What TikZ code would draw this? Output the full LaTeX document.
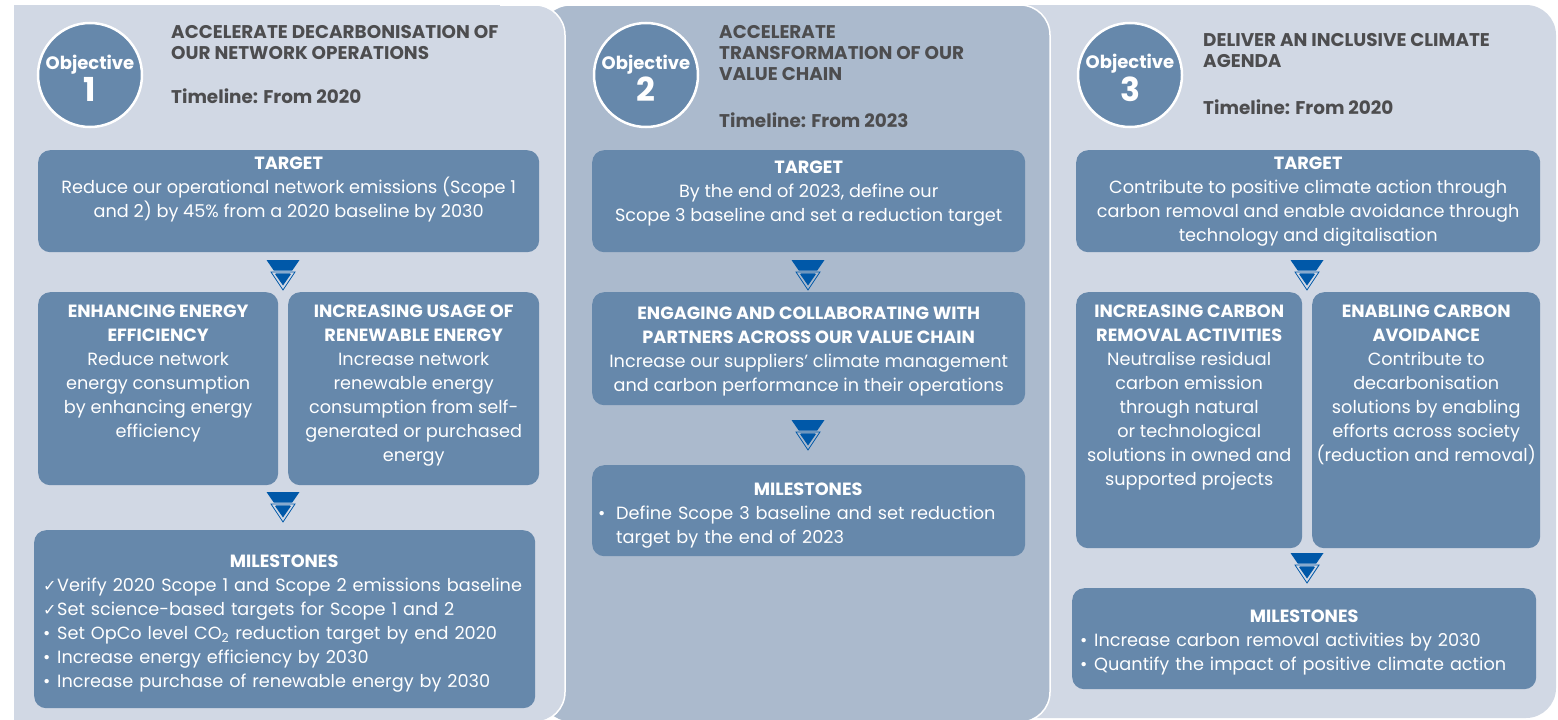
\documentclass[tikz,border=0pt]{standalone}
\usepackage{fontspec}
\setmainfont{Poppins}
\newfontfamily\symfont{DejaVu Sans}
\usetikzlibrary{positioning,calc}
\definecolor{PanelLight}{RGB}{209,216,228}
\definecolor{PanelMid}{RGB}{171,186,205}
\definecolor{CardColor}{RGB}{102,136,171}
\definecolor{MarkBlue}{RGB}{0,88,168}
\definecolor{HeadGray}{RGB}{77,77,79}
\tikzset{
  card/.style={fill=CardColor, rounded corners=12pt, inner sep=0pt, anchor=north west},
  cardtext/.style={text=white, align=center, inner sep=0pt, anchor=north, font=\fontsize{17.7}{24}\selectfont},
  listtext/.style={text=white, align=left, inner sep=0pt, anchor=north west, font=\fontsize{17.7}{24}\selectfont},
  objcircle/.style={circle, fill=CardColor, draw=white, line width=2.5pt, minimum size=104pt, inner sep=0pt},
  objtext/.style={text=white, align=center, inner sep=0pt},
  headtext/.style={text=HeadGray, align=left, anchor=north west, inner sep=0pt, font=\bfseries\fontsize{18.4}{21}\selectfont},
  pics/flowmark/.style={code={
    \fill[MarkBlue] (-16.5,-15) -- (16.5,-15) -- (0,9) -- cycle;
    \draw[#1, line width=2.6pt, line join=round] (-12,-3) -- (12,-3) -- (0,15) -- cycle;
    \draw[MarkBlue, line width=0.8pt] (-12,-3) -- (12,-3) -- (0,15) -- cycle;
    \fill[MarkBlue] (-8,-1) -- (8,-1) -- (0,10.5) -- cycle;
  }}
}
\newcommand{\tick}{\makebox[14pt][l]{\symfont\fontsize{16}{24}\selectfont ✓}}
\newcommand{\dotitem}[1][14pt]{\makebox[#1][l]{•}}
\newcommand{\objlabel}[1]{{\bfseries\fontsize{18}{20}\selectfont Objective}\\[2pt]{\bfseries\fontsize{33}{30}\selectfont #1}}
\begin{document}
\begin{tikzpicture}[x=1pt, y=-1pt]
  \useasboundingbox (0,0) rectangle (1558,720);
  \fill[white] (0,0) rectangle (1558,720);
  % panels, back to front
  \fill[PanelLight, rounded corners=30pt] (1000,5) rectangle (1556,718);
  \filldraw[fill=PanelMid, draw=white, line width=1.5pt, rounded corners=30pt] (540,5) rectangle (1050,722);
  \fill[PanelLight, rounded corners=30pt] (14,5) rectangle (565,722);
  \fill[PanelLight] (14,5) rectangle (80,722);
  \draw[white, line width=1.5pt, rounded corners=30pt] (500,5) -- (565,5) -- (565,722) -- (500,722);

  % objective 1
  \node[objcircle] (objA) at (90,75) {};
  \node[objtext] (objAtxt) at ([yshift=-3pt]objA.center) {\objlabel{1}};
  \node[headtext] (headA) at (171,25) {ACCELERATE DECARBONISATION OF\\OUR NETWORK OPERATIONS\\[23pt]Timeline: From 2020};
  \node[card, minimum width=501pt, minimum height=102pt] (tgtA) at (38,150) {};
  \node[cardtext] (tgtAtxt) at ([yshift=-7pt]tgtA.north) {\textbf{TARGET}\\Reduce our operational network emissions (Scope 1\\and 2) by 45\% from a 2020 baseline by 2030};
  \node[card, minimum width=240pt, minimum height=193pt] (effA) at (38,292) {};
  \node[cardtext] (effAtxt) at ([yshift=-13pt]effA.north) {\textbf{ENHANCING ENERGY}\\\textbf{EFFICIENCY}\\Reduce network\\energy consumption\\by enhancing energy\\efficiency};
  \node[card, minimum width=251pt, minimum height=193pt] (renA) at (288,292) {};
  \node[cardtext] (renAtxt) at ([yshift=-13pt]renA.north) {\textbf{INCREASING USAGE OF}\\\textbf{RENEWABLE ENERGY}\\Increase network\\renewable energy\\consumption from self-\\generated or purchased\\energy};
  \node[card, minimum width=501pt, minimum height=178pt] (msA) at (34,530) {};
  \node[listtext, text width=490pt] (msAtxt) at ([xshift=9pt, yshift=-25pt]msA.north west) {\makebox[482pt][c]{\textbf{MILESTONES}}\\
    \tick Verify 2020 Scope 1 and Scope 2 emissions baseline\\
    \tick Set science-based targets for Scope 1 and 2\\
    \dotitem Set OpCo level CO\textsubscript{2} reduction target by end 2020\\
    \dotitem Increase energy efficiency by 2030\\
    \dotitem Increase purchase of renewable energy by 2030};
  \pic at (283,275) {flowmark=PanelLight};
  \pic at (283,507) {flowmark=PanelLight};

  % objective 2
  \node[objcircle] (objB) at (646,75) {};
  \node[objtext] (objBtxt) at ([yshift=-3pt]objB.center) {\objlabel{2}};
  \node[headtext] (headB) at (719,25) {ACCELERATE\\TRANSFORMATION OF OUR\\VALUE CHAIN\\[26pt]Timeline: From 2023};
  \node[card, minimum width=433pt, minimum height=102pt] (tgtB) at (592,150) {};
  \node[cardtext] (tgtBtxt) at ([yshift=-11pt]tgtB.north) {\textbf{TARGET}\\By the end of 2023, define our\\Scope 3 baseline and set a reduction target};
  \node[card, minimum width=433pt, minimum height=113pt] (engB) at (592,292) {};
  \node[cardtext] (engBtxt) at ([yshift=-15pt]engB.north) {\textbf{ENGAGING AND COLLABORATING WITH}\\\textbf{PARTNERS ACROSS OUR VALUE CHAIN}\\Increase our suppliers’ climate management\\and carbon performance in their operations};
  \node[card, minimum width=433pt, minimum height=91pt] (msB) at (592,465) {};
  \node[listtext, text width=420pt] (msBtxt) at ([xshift=6pt, yshift=-18pt]msB.north west) {\makebox[\linewidth][c]{\textbf{MILESTONES}}\\
    \dotitem[18pt]Define Scope 3 baseline and set reduction\\
    \hspace*{18pt}target by the end of 2023};
  \pic at (808,275) {flowmark=PanelMid};
  \pic at (808,435) {flowmark=PanelMid};

  % objective 3
  \node[objcircle] (objC) at (1130,75) {};
  \node[objtext] (objCtxt) at ([yshift=-3pt]objC.center) {\objlabel{3}};
  \node[headtext] (headC) at (1203,33) {DELIVER AN INCLUSIVE CLIMATE\\AGENDA\\[26pt]Timeline: From 2020};
  \node[card, minimum width=464pt, minimum height=102pt] (tgtC) at (1076,150) {};
  \node[cardtext] (tgtCtxt) at ([yshift=-7pt]tgtC.north) {\textbf{TARGET}\\Contribute to positive climate action through\\carbon removal and enable avoidance through\\technology and digitalisation};
  \node[card, minimum width=226pt, minimum height=256pt] (remC) at (1076,292) {};
  \node[cardtext] (remCtxt) at ([yshift=-13pt]remC.north) {\textbf{INCREASING CARBON}\\\textbf{REMOVAL ACTIVITIES}\\Neutralise residual\\carbon emission\\through natural\\or technological\\solutions in owned and\\supported projects};
  \node[card, minimum width=228pt, minimum height=256pt] (avoC) at (1312,292) {};
  \node[cardtext] (avoCtxt) at ([yshift=-13pt]avoC.north) {\textbf{ENABLING CARBON}\\\textbf{AVOIDANCE}\\Contribute to\\decarbonisation\\solutions by enabling\\efforts across society\\(reduction and removal)};
  \node[card, minimum width=464pt, minimum height=101pt] (msC) at (1072,588) {};
  \node[listtext, text width=448pt] (msCtxt) at ([xshift=8pt, yshift=-22pt]msC.north west) {\makebox[\linewidth][c]{\textbf{MILESTONES}}\\
    \dotitem Increase carbon removal activities by 2030\\
    \dotitem Quantify the impact of positive climate action};
  \pic at (1307,568) {flowmark=PanelLight};
  \pic at (1307,275) {flowmark=PanelLight};
\end{tikzpicture}
\end{document}
